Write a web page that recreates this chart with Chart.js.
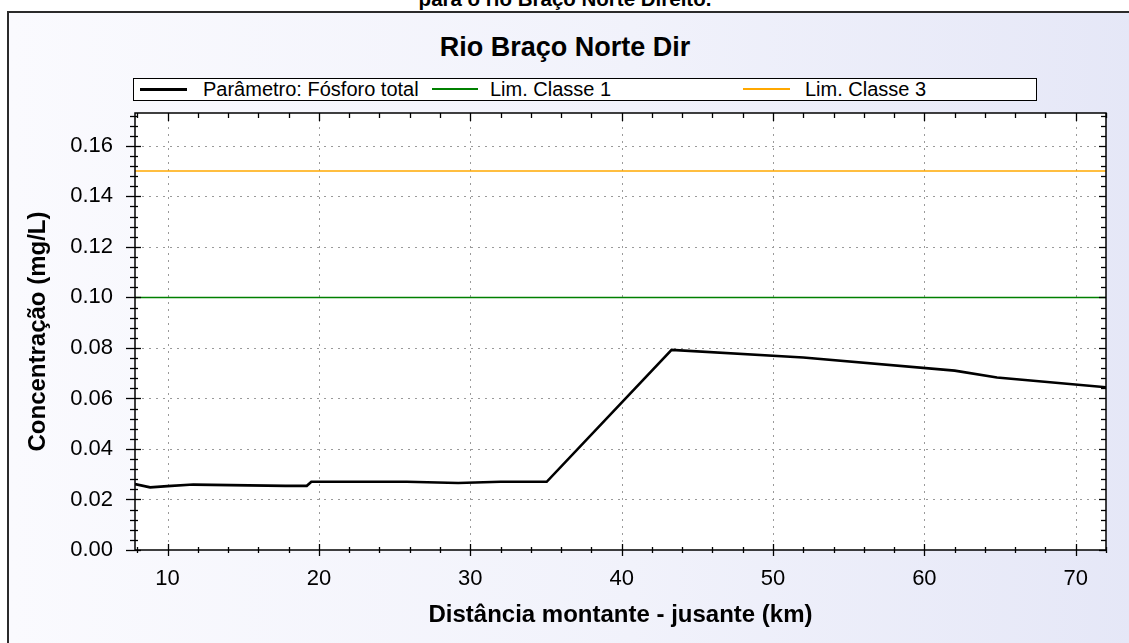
<!DOCTYPE html>
<html>
<head>
<meta charset="utf-8">
<script src="https://cdn.jsdelivr.net/npm/chart.js@4.4.1/dist/chart.umd.min.js"></script>
<style>
  html, body { margin:0; padding:0; width:1129px; height:643px; overflow:hidden; background:#ffffff; font-family:"Liberation Sans", Arial, sans-serif; }
  #frame { position:absolute; left:7px; top:11px; width:1130px; height:640px; border-left:2px solid #2b2b2b; border-top:2px solid #2b2b2b;
           background:linear-gradient(to right, #fafafe 0%, #f1f2fb 55%, #e5e7f7 100%); }
  #caption { position:absolute; left:0; width:1130px; top:-13px; text-align:center; font-weight:bold; font-size:20.5px; line-height:24px; color:#000; }
  #title { position:absolute; left:0; width:1130px; top:31px; text-align:center; font-weight:bold; font-size:27px; line-height:32px; color:#000; }
  #legend { position:absolute; left:133px; top:78px; width:902px; height:21px; border:1px solid #000; background:#fff; }
  .lg-line { position:absolute; }
  .lg-text { position:absolute; top:-1px; font-size:20px; line-height:23px; color:#000; white-space:nowrap; }
  #c { position:absolute; left:0; top:0; }
</style>
</head>
<body>
<div id="frame"></div>
<div id="caption">para o rio Braço Norte Direito.</div>
<div id="title">Rio Braço Norte Dir</div>
<div id="legend"></div>
<canvas id="c" width="1129" height="643"></canvas>
<script>
// ---- data ----
const distKm  = [7.85, 8.85, 10.0, 11.7, 17.8, 19.2, 19.5, 25.8, 29.2, 32.0, 35.05, 43.3, 52.0, 62.0, 64.8, 72.0];
const fosforo = [0.0261, 0.0248, 0.0253, 0.0259, 0.0254, 0.0254, 0.0270, 0.0270, 0.0265, 0.0270, 0.0270, 0.0792, 0.0762, 0.0710, 0.0683, 0.0644];
const limClasse1 = 0.10;
const limClasse3 = 0.15;
const xRange = [7.85, 72.0];
const yRange = [0, 0.173];
const xTicks = [10, 20, 30, 40, 50, 60, 70];
const yTicks = [0.00, 0.02, 0.04, 0.06, 0.08, 0.10, 0.12, 0.14, 0.16];
const seriesNames = ["Parâmetro: Fósforo total", "Lim. Classe 1", "Lim. Classe 3"];
const seriesColors = ["#000000", "#008000", "#ffa800"];
const xTitle = "Distância montante - jusante (km)";
const yTitle = "Concentração (mg/L)";

// ---- legend (HTML) ----
const lg = document.getElementById('legend');
const lgItems = [
  {lineL: 6, lineW: 47, lineH: 3, textL: 69},
  {lineL: 298, lineW: 46, lineH: 2, textL: 356},
  {lineL: 609, lineW: 47, lineH: 2, textL: 671}
];
lgItems.forEach((it, i) => {
  const l = document.createElement('div');
  l.className = 'lg-line';
  l.style.left = it.lineL + 'px'; l.style.width = it.lineW + 'px';
  l.style.height = it.lineH + 'px'; l.style.top = Math.round(10 - it.lineH/2) + 'px';
  l.style.background = seriesColors[i];
  lg.appendChild(l);
  const t = document.createElement('div');
  t.className = 'lg-text'; t.style.left = it.textL + 'px';
  t.textContent = seriesNames[i];
  lg.appendChild(t);
});

// ---- frame plugin: plot background, dotted grid, box and ticks ----
const framePlugin = {
  id: 'framePlugin',
  beforeDatasetsDraw(chart) {
    const {ctx, chartArea: a, scales: {x, y}} = chart;
    ctx.save();
    ctx.fillStyle = '#ffffff';
    ctx.fillRect(a.left, a.top, a.right - a.left, a.bottom - a.top);
    ctx.strokeStyle = '#9a9a9a';
    ctx.lineWidth = 1;
    ctx.setLineDash([2, 5]);
    xTicks.forEach(v => {
      const px = Math.round(x.getPixelForValue(v)) + 0.5;
      ctx.beginPath(); ctx.moveTo(px, a.top); ctx.lineTo(px, a.bottom); ctx.stroke();
    });
    yTicks.forEach(v => {
      if (v === yRange[0]) return;
      const py = Math.round(y.getPixelForValue(v)) + 0.5;
      ctx.beginPath(); ctx.moveTo(a.left, py); ctx.lineTo(a.right, py); ctx.stroke();
    });
    ctx.restore();
  },
  afterDatasetsDraw(chart) {
    const {ctx, chartArea: a, scales: {x, y}} = chart;
    ctx.save();
    ctx.strokeStyle = '#000';
    ctx.lineWidth = 1.5;
    ctx.setLineDash([]);
    ctx.strokeRect(a.left, a.top, a.right - a.left, a.bottom - a.top);
    ctx.lineWidth = 1.3;
    const line = (x1, y1, x2, y2) => { ctx.beginPath(); ctx.moveTo(x1, y1); ctx.lineTo(x2, y2); ctx.stroke(); };
    // x ticks (major every 10, minor every 2)
    for (let v = 8; v <= xRange[1]; v += 2) {
      const px = Math.round(x.getPixelForValue(v)) + 0.5;
      const major = v % 10 === 0;
      if (major) { line(px, a.bottom - 6, px, a.bottom + 6); line(px, a.top, px, a.top + 8); }
      else { line(px, a.bottom - 3, px, a.bottom + 3); line(px, a.top, px, a.top + 5); }
    }
    // y ticks (major every 0.02, minor every 0.004)
    for (let k = 0; k * 0.004 <= yRange[1] + 1e-9; k++) {
      const v = k * 0.004;
      const py = Math.round(y.getPixelForValue(v)) + 0.5;
      const major = k % 5 === 0;
      if (major) { line(a.left - 9, py, a.left + 6, py); line(a.right - 7, py, a.right, py); }
      else { line(a.left - 5, py, a.left + 3, py); line(a.right - 5, py, a.right, py); }
    }
    ctx.restore();
  }
};

const mkPts = (xs, ys) => xs.map((v, i) => ({x: v, y: ys[i]}));

new Chart(document.getElementById('c'), {
  type: 'line',
  data: {
    datasets: [
      { label: seriesNames[1], data: mkPts(xRange, [limClasse1, limClasse1]), borderColor: seriesColors[1], borderWidth: 1.5, pointRadius: 0, tension: 0 },
      { label: seriesNames[2], data: mkPts(xRange, [limClasse3, limClasse3]), borderColor: seriesColors[2], borderWidth: 1.5, pointRadius: 0, tension: 0 },
      { label: seriesNames[0], data: mkPts(distKm, fosforo), borderColor: seriesColors[0], borderWidth: 2.6, pointRadius: 0, tension: 0 }
    ]
  },
  options: {
    responsive: false,
    animation: false,
    events: [],
    layout: { padding: { top: 113, right: 23, left: 0, bottom: 0 } },
    plugins: { legend: { display: false }, title: { display: false }, tooltip: { enabled: false } },
    scales: {
      x: {
        type: 'linear', min: xRange[0], max: xRange[1],
        afterBuildTicks: s => { s.ticks = xTicks.map(v => ({value: v})); },
        afterFit: s => { s.height = 93; },
        grid: { display: false, drawTicks: false },
        border: { display: false },
        ticks: { padding: 16, color: '#000', font: { family: 'Liberation Sans, Arial', size: 22 }, callback: v => String(v) },
        title: { display: true, text: xTitle, color: '#000', font: { family: 'Liberation Sans, Arial', size: 24, weight: 'bold' }, padding: { top: 0, bottom: 13 } }
      },
      y: {
        type: 'linear', min: yRange[0], max: yRange[1],
        afterBuildTicks: s => { s.ticks = yTicks.map(v => ({value: v})); },
        afterFit: s => { s.width = 135; },
        grid: { display: false, drawTicks: false },
        border: { display: false },
        ticks: { padding: 22, color: '#000', font: { family: 'Liberation Sans, Arial', size: 22 }, callback: v => Number(v).toFixed(2) },
        title: { display: true, text: yTitle, color: '#000', font: { family: 'Liberation Sans, Arial', size: 24, weight: 'bold' }, padding: { top: 24, bottom: 0 } }
      }
    }
  },
  plugins: [framePlugin]
});
</script>
</body>
</html>
